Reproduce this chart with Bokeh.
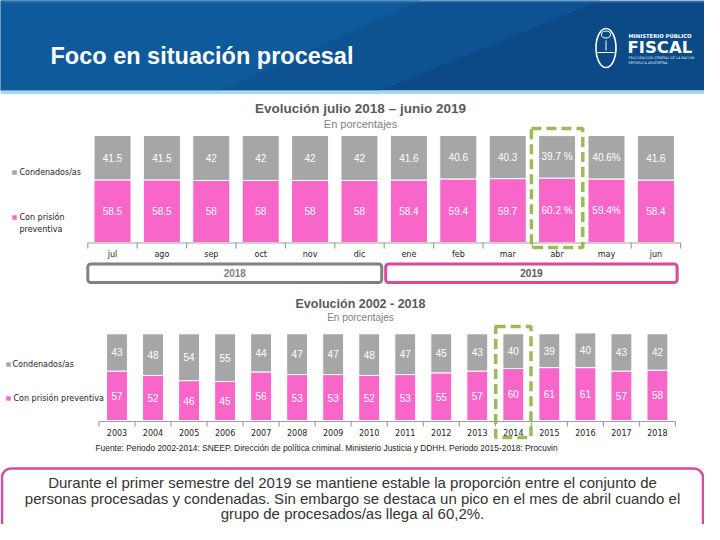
import numpy as np
from bokeh.plotting import figure
from bokeh.models import Range1d
from bokeh.core.properties import value
from bokeh.embed import file_html
from bokeh.resources import INLINE

# ---------------- data ----------------
months = ["jul", "ago", "sep", "oct", "nov", "dic", "ene", "feb", "mar", "abr", "may", "jun"]
month_years = ["2018", "2019"]
months_per_year = [6, 6]
m_condenados = [41.5, 41.5, 42, 42, 42, 42, 41.6, 40.6, 40.3, 39.7, 40.6, 41.6]
m_preventiva = [58.5, 58.5, 58, 58, 58, 58, 58.4, 59.4, 59.7, 60.2, 59.4, 58.4]
m_cond_labels = ["41.5", "41.5", "42", "42", "42", "42", "41.6", "40.6", "40.3", "39.7 %", "40.6%", "41.6"]
m_prev_labels = ["58.5", "58.5", "58", "58", "58", "58", "58.4", "59.4", "59.7", "60.2 %", "59.4%", "58.4"]
highlight_month = "abr"

years = ["2003", "2004", "2005", "2006", "2007", "2008", "2009", "2010",
         "2011", "2012", "2013", "2014", "2015", "2016", "2017", "2018"]
y_condenados = [43, 48, 54, 55, 44, 47, 47, 48, 47, 45, 43, 40, 39, 40, 43, 42]
y_preventiva = [57, 52, 46, 45, 56, 53, 53, 52, 53, 55, 57, 60, 61, 61, 57, 58]
highlight_year = "2014"

series_names = ["Condenados/as", "Con prisión preventiva"]

title_main = "Foco en situación procesal"
title_top = "Evolución julio 2018 – junio 2019"
title_bottom = "Evolución 2002 - 2018"
subtitle = "En porcentajes"
source_note = ("Fuente: Periodo 2002-2014: SNEEP. Dirección de política criminal. "
               "Ministerio Justicia y DDHH. Periodo 2015-2018: Procuvin")
summary_lines = [
    "Durante el primer semestre del 2019 se mantiene estable la proporción entre el conjunto de",
    "personas procesadas y condenadas. Sin embargo se destaca un pico en el mes de abril cuando el",
    "grupo de procesados/as llega al 60,2%.",
]

# ---------------- styles ----------------
GREY = "#a6a6a6"
PINK = "#f866c9"
GREEN = "#9bbb59"
MAGENTA = "#d94a9c"
TXT = "#595959"
SANS = "Liberation Sans"
DJ = "DejaVu Sans"

W, H = 704, 524
OX, OY = 0, 0

p = figure(width=W, height=H, x_range=Range1d(OX, OX + W), y_range=Range1d(OY + H, OY),
           output_backend="svg", toolbar_location=None, x_axis_type=None, y_axis_type=None,
           min_border=0, outline_line_color=None)
p.min_border_left = p.min_border_right = p.min_border_top = p.min_border_bottom = 0
p.grid.visible = False
p.background_fill_color = "white"
p.border_fill_color = "white"


def xr(center0, step):
    return Range1d((OX - center0) / step, (OX + W - center0) / step)


def yr(base, ppu):
    return Range1d((base - (OY + H)) / ppu, (base - OY) / ppu)


T_X0, T_STEP, T_BASE, T_PPU = 112.0, 49.4, 242.0, 1.07
B_X0, B_STEP, B_BASE, B_PPU = 116.5, 36.03, 420.0, 0.867
p.extra_x_ranges = {"tx": xr(T_X0, T_STEP), "bx": xr(B_X0, B_STEP)}
p.extra_y_ranges = {"ty": yr(T_BASE, T_PPU), "by": yr(B_BASE, B_PPU)}


def txt(x, y, s, size, color, font=SANS, style="normal", align="left", **kw):
    p.text(x=list(x), y=list(y), text=list(s), text_font=value(font), text_font_size=f"{size}px",
           text_font_style=style, text_color=color, text_align=align, text_baseline="middle", **kw)


# ---------------- header ----------------
p.quad(left=0, right=720, top=0, bottom=90, fill_color="#0b4a86", line_color=None)
p.patch([0, 600, 380, 0], [0, 0, 90, 90], fill_color="#0d5392", line_color=None)
p.patch([0, 420, 220, 0], [0, 0, 90, 90], fill_color="#0f5a9a", line_color=None)
p.quad(left=0, right=720, top=0, bottom=2, fill_color="#2a6fae", line_color=None)
p.quad(left=0, right=720, top=90, bottom=93.5, fill_color="#a8d8ee", line_color=None)
txt([50], [55], [title_main], 23.5, "white", style="bold")
# logo
p.ellipse(x=[605.5], y=[47.5], width=20, height=39, fill_color=None, line_color="white", line_width=1.6)
p.ellipse(x=[605.5], y=[34], width=9, height=7, fill_color=None, line_color="white", line_width=1)
p.segment(x0=[597], y0=[52], x1=[614], y1=[52], line_color="white", line_width=1)
p.segment(x0=[605.5], y0=[40], x1=[605.5], y1=[50], line_color="white", line_width=1)
txt([628], [35], ["MINISTERIO PÚBLICO"], 5.3, "white", font=DJ, style="bold")
txt([627], [46.5], ["FISCAL"], 16.5, "white", font=DJ, style="bold")
txt([628], [57], ["PROCURACIÓN GENERAL DE LA NACIÓN"], 3.3, "#d8e6f3", font=DJ)
txt([628], [62.5], ["REPÚBLICA ARGENTINA"], 3.3, "#d8e6f3", font=DJ)

# ---------------- top chart ----------------
txt([360], [108], [title_top], 13.5, TXT, style="bold", align="center")
txt([360], [123], [subtitle], 11, "#7f7f7f", align="center")

ti = np.arange(len(months))
tprev = np.array(m_preventiva, dtype=float)
tcond = np.array(m_condenados, dtype=float)
p.vbar(x=ti, bottom=0, top=tprev, width=0.75, fill_color=PINK, line_color="white", line_width=1,
       x_range_name="tx", y_range_name="ty")
p.vbar(x=ti, bottom=tprev, top=tprev + tcond, width=0.75, fill_color=GREY, line_color="white",
       line_width=1, x_range_name="tx", y_range_name="ty")
txt(ti, tprev / 2, m_prev_labels, 10, "white", align="center", x_range_name="tx", y_range_name="ty")
txt(ti, tprev + tcond / 2, m_cond_labels, 10, "white", align="center", x_range_name="tx", y_range_name="ty")

p.segment(x0=[-0.5], x1=[len(months) - 0.5], y0=[T_BASE + 0.5], y1=[T_BASE + 0.5],
          line_color="#a0a0a0", line_width=1.2, x_range_name="tx")
tk = np.arange(len(months) + 1) - 0.5
p.segment(x0=tk, x1=tk, y0=[T_BASE] * len(tk), y1=[T_BASE + 6] * len(tk),
          line_color="#a0a0a0", line_width=1.2, x_range_name="tx")
txt(ti, [254] * len(ti), months, 8, "#222222", font=DJ, align="center", x_range_name="tx")

# year boxes
bounds = np.concatenate([[0], np.cumsum(months_per_year)])
box_l = bounds[:-1] - 0.5 + np.array([0, 0.03])
box_r = bounds[1:] - 0.5 - np.array([0.05, 0.07])
p.quad(left=box_l[:1], right=box_r[:1], top=[263.5], bottom=[282], fill_color="white",
       line_color="#808080", line_width=3, border_radius=3, x_range_name="tx")
p.quad(left=box_l[1:], right=box_r[1:], top=[263.5], bottom=[282], fill_color="white",
       line_color=MAGENTA, line_width=3, border_radius=3, x_range_name="tx")
txt((box_l + box_r) / 2, [272.5, 272.5], month_years, 10, ["#808080", TXT], style="bold",
    align="center", x_range_name="tx")

# highlight box
hm = months.index(highlight_month)
p.quad(left=[hm - 0.52], right=[hm + 0.52], top=[128], bottom=[247], fill_color=None,
       line_color=GREEN, line_width=3.5, line_dash="10 5", x_range_name="tx")

# legend top
p.scatter(x=[14, 14], y=[172, 217], marker="square", size=4.5, fill_color=[GREY, PINK], line_color=None)
txt([19], [172], [series_names[0]], 8, "#222222", font=DJ)
txt([19, 19], [217, 228.5], ["Con prisión", "preventiva"], 8, "#222222", font=DJ)

# ---------------- bottom chart ----------------
txt([360], [303], [title_bottom], 12.5, TXT, style="bold", align="center")
txt([360], [317], [subtitle], 10, "#7f7f7f", align="center")

bi = np.arange(len(years))
bprev = np.array(y_preventiva, dtype=float)
bcond = np.array(y_condenados, dtype=float)
p.vbar(x=bi, bottom=0, top=bprev, width=0.58, fill_color=PINK, line_color="white", line_width=1,
       x_range_name="bx", y_range_name="by")
p.vbar(x=bi, bottom=bprev, top=bprev + bcond, width=0.58, fill_color=GREY, line_color="white",
       line_width=1, x_range_name="bx", y_range_name="by")
txt(bi, bprev / 2, [str(v) for v in y_preventiva], 10, "white", align="center",
    x_range_name="bx", y_range_name="by")
txt(bi, bprev + bcond / 2, [str(v) for v in y_condenados], 10, "white", align="center",
    x_range_name="bx", y_range_name="by")

p.segment(x0=[-0.5], x1=[len(years) - 0.5], y0=[B_BASE + 1], y1=[B_BASE + 1],
          line_color="#a0a0a0", line_width=1.2, x_range_name="bx")
bk = np.arange(len(years) + 1) - 0.5
p.segment(x0=bk, x1=bk, y0=[B_BASE + 1] * len(bk), y1=[B_BASE + 6] * len(bk),
          line_color="#a0a0a0", line_width=1.2, x_range_name="bx")
txt(bi, [432] * len(bi), years, 8, "#222222", font=DJ, align="center", x_range_name="bx")

hy = years.index(highlight_year)
p.quad(left=[hy - 0.49], right=[hy + 0.49], top=[326], bottom=[437], fill_color=None,
       line_color=GREEN, line_width=3.5, line_dash="10 5", x_range_name="bx")

# legend bottom
p.scatter(x=[8, 8], y=[364, 398], marker="square", size=4.5, fill_color=[GREY, PINK], line_color=None)
txt([12, 13], [364, 398], series_names, 8, "#222222", font=DJ)

txt([95], [447], [source_note], 8.4, "#222222")

# ---------------- summary box ----------------
p.quad(left=[1.5], right=[702.5], top=[468], bottom=[536], fill_color="white", line_color=MAGENTA,
       line_width=2.5, border_radius=9)
txt([352] * 3, [482, 497.5, 513], summary_lines, 15, "#333333", align="center")

open("out.html", "w").write(file_html(p, INLINE))
